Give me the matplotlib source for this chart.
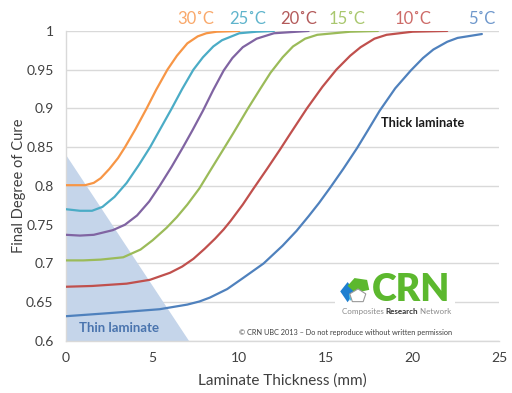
import numpy as np
import matplotlib
matplotlib.use("Agg")
import matplotlib.pyplot as plt
from matplotlib.patches import Polygon, Rectangle
from matplotlib.transforms import offset_copy

plt.rcParams['font.family'] = ['Lato', 'DejaVu Sans']

# data
temps = ["30˚C", "25˚C", "20˚C", "15˚C", "10˚C", "5˚C"]

x30 = [0, 1.1, 1.6, 2.0, 2.5, 3.0, 3.4, 4.0, 4.65, 5.2, 5.85, 6.4, 7.0, 7.6, 8.1, 8.7, 10.0]
y30 = [0.801, 0.801, 0.804, 0.81, 0.822, 0.836, 0.85, 0.873, 0.90, 0.924, 0.95, 0.968, 0.984, 0.993, 0.997, 0.999, 1.0]

x25 = [0, 0.8, 1.5, 2.1, 2.8, 3.5, 4.2, 4.85, 5.4, 6.1, 6.7, 7.35, 7.9, 8.5, 9.0, 10.0, 11.0, 12.0]
y25 = [0.77, 0.768, 0.768, 0.773, 0.786, 0.804, 0.827, 0.85, 0.872, 0.90, 0.925, 0.95, 0.966, 0.98, 0.988, 0.997, 0.999, 1.0]

x20 = [0, 0.8, 1.6, 2.7, 3.4, 4.1, 4.8, 5.4, 6.1, 6.75, 7.3, 7.9, 8.5, 9.1, 9.6, 10.2, 11.0, 12.0, 14.0]
y20 = [0.737, 0.736, 0.737, 0.743, 0.750, 0.762, 0.78, 0.80, 0.825, 0.85, 0.872, 0.897, 0.924, 0.949, 0.965, 0.979, 0.990, 0.997, 1.0]

x15 = [0, 1.0, 2.0, 3.3, 4.3, 5.0, 5.8, 6.4, 7.0, 7.7, 8.3, 9.1, 9.65, 10.5, 11.2, 11.8, 12.5, 13.1, 13.8, 14.5, 16.4, 18.0]
y15 = [0.704, 0.704, 0.705, 0.708, 0.718, 0.73, 0.746, 0.76, 0.776, 0.797, 0.819, 0.848, 0.868, 0.90, 0.925, 0.946, 0.966, 0.98, 0.99, 0.995, 0.999, 1.0]

x10 = [0, 1.5, 3.5, 4.85, 6.0, 6.7, 7.35, 8.0, 8.6, 9.1, 9.5, 10.2, 10.8, 11.6, 12.35, 12.9, 13.9, 14.8, 15.6, 16.4, 17.0, 17.8, 18.5, 20.0, 22.0]
y10 = [0.67, 0.671, 0.674, 0.679, 0.688, 0.696, 0.706, 0.719, 0.732, 0.744, 0.755, 0.776, 0.796, 0.822, 0.847, 0.866, 0.90, 0.928, 0.95, 0.968, 0.979, 0.99, 0.995, 0.999, 1.0]

x5 = [0, 2.5, 5.4, 7.0, 7.7, 8.3, 9.3, 10.2, 11.4, 12.5, 13.3, 14.0, 14.6, 15.25, 16.0, 16.8, 17.4, 18.1, 19.0, 19.9, 20.6, 21.2, 22.0, 22.6, 24.0]
y5 = [0.632, 0.636, 0.641, 0.647, 0.651, 0.656, 0.667, 0.681, 0.70, 0.723, 0.742, 0.761, 0.778, 0.798, 0.822, 0.849, 0.871, 0.897, 0.926, 0.949, 0.965, 0.976, 0.986, 0.991, 0.996]

# thin laminate zone corners
thin_x = [0, 0, 7.1]
thin_y = [0.6, 0.84, 0.6]

xticks = [0, 5, 10, 15, 20, 25]
yticks = [0.6, 0.65, 0.7, 0.75, 0.8, 0.85, 0.9, 0.95, 1.0]
ytick_labels = ["0.6", "0.65", "0.7", "0.75", "0.8", "0.85", "0.9", "0.95", "1"]

line_colors = ["#F79646", "#4BACC6", "#8064A2", "#9BBB59", "#C0504D", "#4F81BD"]
label_colors = ["#F9A86A", "#5FB4CC", "#B35A5A", "#A9C76E", "#CD6B68", "#6F98CC"]
label_x = [7.5, 10.5, 13.4, 16.2, 20.0, 24.0]

fig = plt.figure(figsize=(5.12, 3.93), dpi=100)
ax = fig.add_axes([0.129, 0.1323, 0.846, 0.789])

ax.fill(thin_x, thin_y, color="#C5D5EA", lw=0, zorder=1)

series = [(x30, y30), (x25, y25), (x20, y20), (x15, y15), (x10, y10), (x5, y5)]
for (xs, ys), c in zip(series, line_colors):
    ax.plot(xs, ys, color=c, lw=1.6, zorder=3, solid_capstyle='round', solid_joinstyle='round')

ax.set_xlim(0, 25)
ax.set_ylim(0.6, 1.0)
ax.set_xticks(xticks)
ax.set_yticks(yticks)
ax.set_yticklabels(ytick_labels)
ax.tick_params(axis='y', length=0, labelsize=10, labelcolor="#404040", pad=9)
ax.tick_params(axis='x', length=0, labelsize=10, labelcolor="#404040", pad=8)
ax.grid(axis='y', color="#D9D9D9", lw=1, zorder=0)
ax.set_axisbelow(True)
for s in ["top", "right"]:
    ax.spines[s].set_visible(False)
for s in ["left", "bottom"]:
    ax.spines[s].set_color("#D9D9D9")
    ax.spines[s].set_linewidth(1)

ax.set_xlabel("Laminate Thickness (mm)", fontsize=11, color="#404040", labelpad=7)
ax.set_ylabel("Final Degree of Cure", fontsize=10.5, color="#404040", labelpad=0)

for t, c, lx in zip(temps, label_colors, label_x):
    ax.text(lx, 1.005, t, color=c, fontsize=12, ha='center', va='bottom', clip_on=False)

ax.text(0.75, 0.617, "Thin laminate", color="#4A74AE", fontsize=9.5, fontweight='bold', va='center')
ax.text(18.2, 0.881, "Thick laminate", color="#1a1a1a", fontsize=9.2, fontweight='bold', va='center')

ax.text(10.0, 0.6115, "© CRN UBC 2013 – Do not reproduce without written permission",
        fontsize=5.3, color="#404040", va='center')

# CRN logo (axes fraction coords)
ax.add_patch(Rectangle((0.621, 0.075), 0.277, 0.14, transform=ax.transAxes,
                       facecolor="white", edgecolor="none", zorder=4))
ax.add_patch(Polygon([(0.633, 0.16), (0.650, 0.19), (0.667, 0.16), (0.650, 0.125)],
                     closed=True, transform=ax.transAxes, facecolor="#1E7FD0", edgecolor="none", zorder=5))
ax.add_patch(Polygon([(0.650, 0.178), (0.666, 0.203), (0.695, 0.197), (0.700, 0.165), (0.668, 0.155)],
                     closed=True, transform=ax.transAxes, facecolor="#5CB82E", edgecolor="none", zorder=6))
ax.add_patch(Polygon([(0.655, 0.152), (0.674, 0.168), (0.692, 0.152), (0.686, 0.127), (0.661, 0.127)],
                     closed=True, transform=ax.transAxes, facecolor="white", edgecolor="#9a9a9a", lw=0.8, zorder=7))
ax.add_patch(Polygon([(0.653, 0.15), (0.664, 0.158), (0.664, 0.135), (0.655, 0.13)],
                     closed=True, transform=ax.transAxes, facecolor="#45C8F0", edgecolor="none", zorder=6.5))
ax.text(0.707, 0.163, "CRN", transform=ax.transAxes, fontsize=27, fontweight='heavy',
        color="#5CB82E", va='center', ha='left', zorder=8)

# "Composites Research Network" pieces laid end to end
fig.canvas.draw()
r = fig.canvas.get_renderer()
parts = [("Composites ", "#8a8a8a", "normal"), ("Research", "#333333", "bold"), (" Network", "#8a8a8a", "normal")]
tr = ax.transAxes
dx = 0
for txt, col, w in parts:
    t = ax.text(0.636, 0.094, txt, transform=offset_copy(tr, fig=fig, x=dx, y=0, units='dots'),
                fontsize=5.8, color=col, fontweight=w, va='center', ha='left', zorder=8)
    dx += t.get_window_extent(renderer=r).width

fig.savefig("out.png", dpi=100)
